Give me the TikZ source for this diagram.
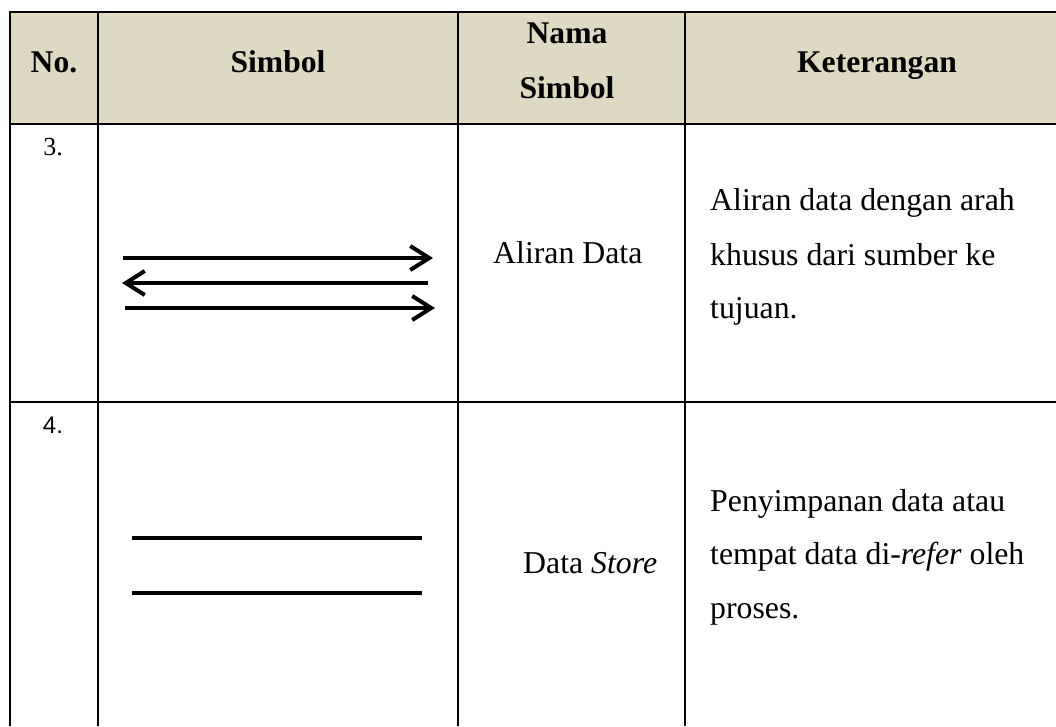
\documentclass[tikz,border=0pt]{standalone}
\usepackage{fontspec}
\setmainfont{Liberation Serif}
\newfontfamily\numsans{Liberation Sans}
\usetikzlibrary{arrows.meta}

\definecolor{headbg}{RGB}{221,217,195}

\tikzset{
  grid/.style={line width=2.6pt, black},
  symline/.style={line width=4pt, black},
  flowtip/.style={-{Straight Barb[length=19pt,width=24pt,line width=4pt]}},
  headtxt/.style={anchor=base, inner sep=0pt, font=\fontsize{31.6}{38}\selectfont\bfseries},
  bodytxt/.style={anchor=base west, inner sep=0pt, font=\fontsize{31.8}{38}\selectfont},
  numtxt/.style={anchor=base, inner sep=0pt, font=\fontsize{26}{31}\selectfont},
}

\begin{document}
\begin{tikzpicture}[x=1pt, y=-1pt]
\useasboundingbox (0,0) rectangle (1056,726);

% header band
\fill[headbg] (10,12) rectangle (1056,124);

% table rules (open on the right and at the bottom)
\draw[grid] (1056,12) -- (10,12) -- (10,726);
\draw[grid] (10,124) -- (1056,124);
\draw[grid] (10,402) -- (1056,402);
\draw[grid] (98,12) -- (98,726);
\draw[grid] (458,12) -- (458,726);
\draw[grid] (685,12) -- (685,726);

% header texts
\node[headtxt] (hno)  at (54,72)  {No.};
\node[headtxt] (hsym) at (278,72) {Simbol};
\node[headtxt] (hnm1) at (567,43) {Nama};
\node[headtxt] (hnm2) at (567,98) {Simbol};
\node[headtxt] (hket) at (877,72) {Keterangan};

% row 3: data flow
\node[numtxt] (n3) at (53,155) {3.};
\coordinate (a1s) at (123,258); \coordinate (a1e) at (433,258);
\coordinate (a2s) at (428,283); \coordinate (a2e) at (122,283);
\coordinate (a3s) at (125,308); \coordinate (a3e) at (435,308);
\draw[symline, flowtip] (a1s) -- (a1e);
\draw[symline, flowtip] (a2s) -- (a2e);
\draw[symline, flowtip] (a3s) -- (a3e);
\node[bodytxt] (nm3) at (493,263) {Aliran Data};
\node[bodytxt] (k3a) at (710,210) {Aliran data dengan arah};
\node[bodytxt] (k3b) at (710,265) {khusus dari sumber ke};
\node[bodytxt] (k3c) at (710,318) {tujuan.};

% row 4: data store
\node[numtxt, font=\numsans\fontsize{24}{29}\selectfont] (n4) at (53,433) {4.};
\coordinate (s1a) at (132,538); \coordinate (s1b) at (422,538);
\coordinate (s2a) at (132,593); \coordinate (s2b) at (422,593);
\draw[symline] (s1a) -- (s1b);
\draw[symline] (s2a) -- (s2b);
\node[bodytxt] (nm4) at (523,573) {Data \textit{Store}};
\node[bodytxt] (k4a) at (710,511) {Penyimpanan data atau};
\node[bodytxt] (k4b) at (710,564) {tempat data di-\textit{refer} oleh};
\node[bodytxt] (k4c) at (710,618) {proses.};
\end{tikzpicture}
\end{document}
